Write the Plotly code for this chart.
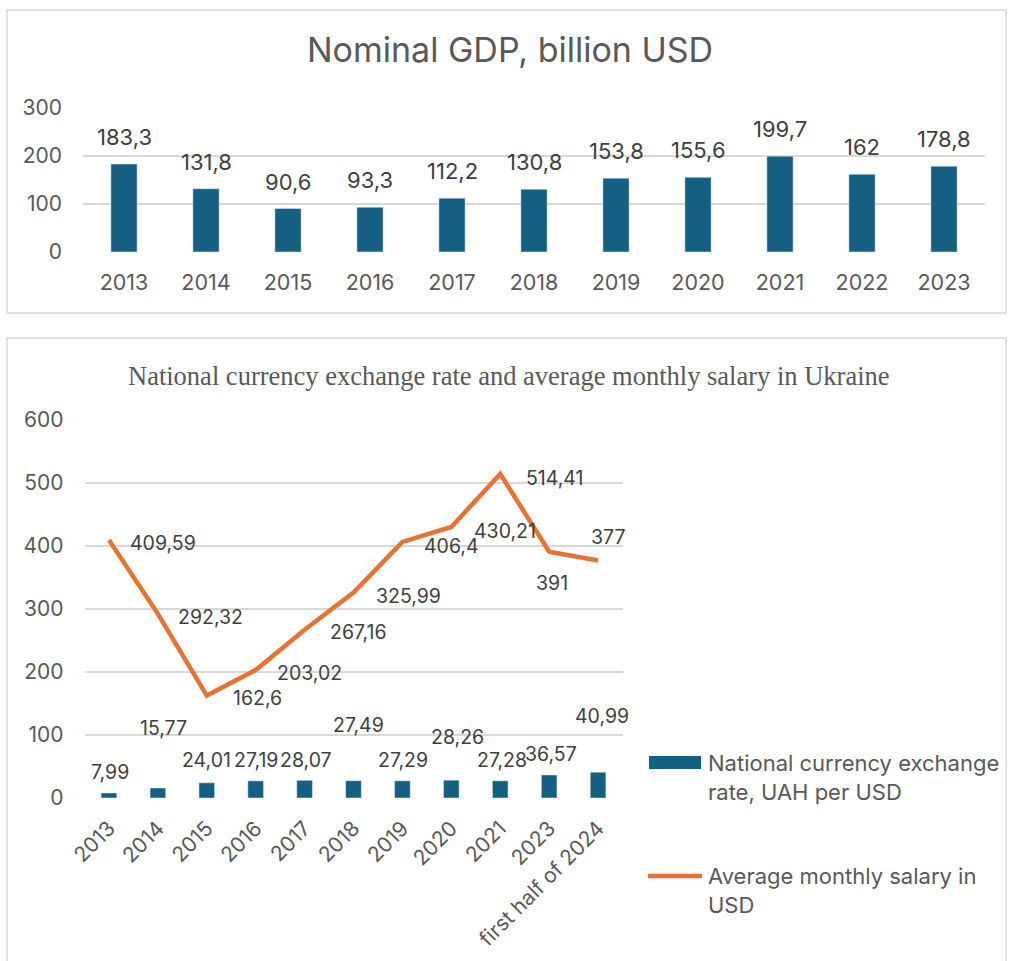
import plotly.graph_objects as go

# ---------------- data ----------------
gdp_years = ["2013", "2014", "2015", "2016", "2017", "2018", "2019", "2020", "2021", "2022", "2023"]
gdp_values = [183.3, 131.8, 90.6, 93.3, 112.2, 130.8, 153.8, 155.6, 199.7, 162, 178.8]

periods = ["2013", "2014", "2015", "2016", "2017", "2018", "2019", "2020", "2021", "2023", "first half of 2024"]
exchange_rate = [7.99, 15.77, 24.01, 27.19, 28.07, 27.49, 27.29, 28.26, 27.28, 36.57, 40.99]
salary_usd = [409.59, 292.32, 162.6, 203.02, 267.16, 325.99, 406.4, 430.21, 514.41, 391, 377]

title_top = "Nominal GDP, billion USD"
title_bottom = "National currency exchange rate and average monthly salary in Ukraine"
name_rate = "National currency exchange<br>rate, UAH per USD"
name_salary = "Average monthly salary in<br>USD"

# label placement (pixel offsets, style only)
rate_label_shift = [(1, 21), (6, 60), (0, 23), (0, 21), (1, 20), (5, 56), (1, 21), (6, 43), (2, 21), (2, 21), (4, 56)]
salary_label_shift = [(54, -3), (53, -3), (51, -2), (54, -3), (54, -2), (55, -3), (49, -4), (54, -4), (55, -4), (3, -31), (10, 23)]

# ---------------- style ----------------
W, H = 1010, 961
BLUE = "#156082"
ORANGE = "#E97132"
TXT = "#595959"
LBL = "#404040"
GRID = "#D9D9D9"
SANS = "Inter, Lato, Roboto, sans-serif"
SERIF = "Liberation Serif, Times New Roman, serif"


def px(x):
    return x / W


def py(y):
    return 1 - y / H


def fmt(v):
    return f"{v:g}".replace(".", ",")


fig = go.Figure()

fig.add_trace(go.Bar(x=gdp_years, y=gdp_values, marker_color=BLUE, xaxis="x", yaxis="y",
                     showlegend=False, name=title_top))
fig.add_trace(go.Bar(x=periods, y=exchange_rate, marker_color=BLUE, xaxis="x2", yaxis="y2",
                     name=name_rate, showlegend=False))
fig.add_trace(go.Scatter(x=periods, y=salary_usd, mode="lines", line=dict(color=ORANGE, width=4.5),
                         xaxis="x2", yaxis="y2", name=name_salary, showlegend=False))

annotations = []
# top chart data labels (x given as category index)
for i, v in enumerate(gdp_values):
    annotations.append(dict(x=i, y=v, xref="x", yref="y", text=fmt(v), showarrow=False,
                            xanchor="center", yanchor="middle", yshift=27,
                            font=dict(family=SANS, size=22, color=LBL)))
# bottom chart bar labels
for i, (v, (dx, dy)) in enumerate(zip(exchange_rate, rate_label_shift)):
    annotations.append(dict(x=i, y=v, xref="x2", yref="y2", text=fmt(v), showarrow=False,
                            xanchor="center", yanchor="middle", xshift=dx, yshift=dy,
                            font=dict(family=SANS, size=19.5, color=LBL)))
# bottom chart line labels
for i, (v, (dx, dy)) in enumerate(zip(salary_usd, salary_label_shift)):
    annotations.append(dict(x=i, y=v, xref="x2", yref="y2", text=fmt(v), showarrow=False,
                            xanchor="center", yanchor="middle", xshift=dx, yshift=dy,
                            font=dict(family=SANS, size=19.5, color=LBL)))

# titles
annotations.append(dict(x=px(510), y=py(50), xref="paper", yref="paper", text=title_top, showarrow=False,
                        xanchor="center", yanchor="middle", font=dict(family=SANS, size=34, color=TXT)))
annotations.append(dict(x=px(509), y=py(376), xref="paper", yref="paper", text=title_bottom, showarrow=False,
                        xanchor="center", yanchor="middle", font=dict(family=SERIF, size=26.5, color=TXT)))

# legend (drawn as text + swatches)
annotations.append(dict(x=px(706), y=py(777), xref="paper", yref="paper", text=name_rate, showarrow=False,
                        xanchor="left", yanchor="middle", align="left",
                        font=dict(family=SANS, size=22, color=TXT)))
annotations.append(dict(x=px(706), y=py(890), xref="paper", yref="paper", text=name_salary, showarrow=False,
                        xanchor="left", yanchor="middle", align="left",
                        font=dict(family=SANS, size=22, color=TXT)))

shapes = [
    dict(type="rect", xref="paper", yref="paper", x0=px(7), x1=px(1006), y0=py(10), y1=py(313),
         line=dict(color=GRID, width=1.5), fillcolor="rgba(0,0,0,0)"),
    dict(type="rect", xref="paper", yref="paper", x0=px(7), x1=px(1006), y0=py(338), y1=py(975),
         line=dict(color=GRID, width=1.5), fillcolor="rgba(0,0,0,0)"),
    dict(type="rect", xref="paper", yref="paper", x0=px(649), x1=px(701), y0=py(756), y1=py(769),
         line=dict(width=0), fillcolor=BLUE),
    dict(type="line", xref="paper", yref="paper", x0=px(648), x1=px(702), y0=py(876), y1=py(876),
         line=dict(color=ORANGE, width=4.5)),
]

axis_common = dict(showline=False, zeroline=False, ticks="", color=TXT, automargin=False)

fig.update_layout(
    width=W, height=H,
    margin=dict(l=0, r=0, t=0, b=0, autoexpand=False),
    paper_bgcolor="white", plot_bgcolor="white",
    bargap=0.68,
    showlegend=False,
    font=dict(family=SANS, color=TXT),
    xaxis=dict(domain=[px(83), px(985)], anchor="y", showgrid=False, type="category",
               range=[-0.5, len(gdp_years) - 0.5],
               tickfont=dict(family=SANS, size=21.5, color=TXT), ticklabelstandoff=15, **axis_common),
    yaxis=dict(domain=[py(252), py(108)], anchor="x", range=[0, 300], dtick=100,
               showgrid=True, gridcolor=GRID, gridwidth=2,
               tickfont=dict(family=SANS, size=21, color=TXT), ticklabelstandoff=20, **axis_common),
    xaxis2=dict(domain=[px(84.5), px(622.5)], anchor="y2", showgrid=False, type="category",
                range=[-0.5, len(periods) - 0.5],
                tickangle=-45, tickfont=dict(family=SANS, size=21, color=TXT), ticklabelstandoff=13,
                **axis_common),
    yaxis2=dict(domain=[py(798), py(420)], anchor="x2", range=[0, 600], dtick=100,
                showgrid=True, gridcolor=GRID, gridwidth=2,
                tickfont=dict(family=SANS, size=21, color=TXT), ticklabelstandoff=20, **axis_common),
    annotations=annotations,
    shapes=shapes,
)

fig.write_html("out.html", config={"displayModeBar": False},
               post_script="document.body.style.margin='0px';")
